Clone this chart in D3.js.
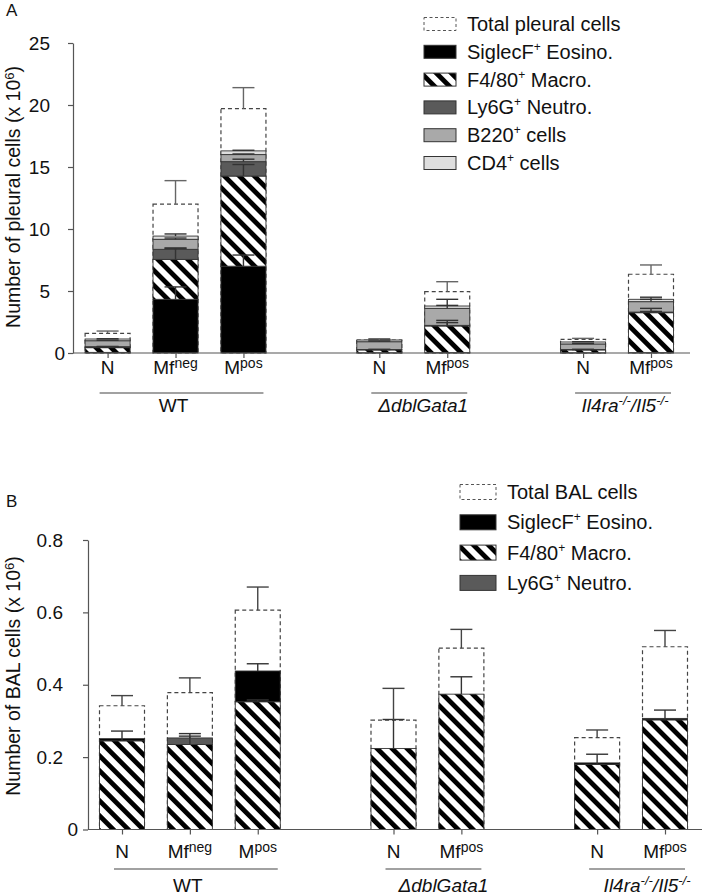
<!DOCTYPE html>
<html>
<head>
<meta charset="utf-8">
<script src="https://cdnjs.cloudflare.com/ajax/libs/d3/7.8.5/d3.min.js"></script>
<style>
  body { margin: 0; background: #fff; }
  text { font-family: "Liberation Sans", Arial, sans-serif; fill: #111; }
</style>
</head>
<body>
<div id="chart"></div>
<script>
// x slots (gaps between genotype groups)
const slots = ["wt_n", "wt_mfneg", "wt_mpos", "gap1", "dbl_n", "dbl_mfpos", "gap2", "il_n", "il_mfpos"];
const conds = ["wt_n", "wt_mfneg", "wt_mpos", "dbl_n", "dbl_mfpos", "il_n", "il_mfpos"];
const condMain = ["N", "Mf", "M", "N", "Mf", "N", "Mf"];
const condSup = ["", "neg", "pos", "", "pos", "", "pos"];

const groupNames = ["WT", "ΔdblGata1", "Il4ra-/-/Il5-/-"];
const groupMembers = [["wt_n", "wt_mpos"], ["dbl_n", "dbl_mfpos"], ["il_n", "il_mfpos"]];

// panel A: pleural cells (x 10^6)
const pleuralTotal    = [1.59, 12.0, 19.7, 1.05, 4.95, 1.10, 6.35];
const pleuralTotalErr = [0.18, 1.9, 1.7, 0.10, 0.80, 0.08, 0.75];
const pleuralEosino    = [0.05, 4.33, 7.0, 0.02, 0.03, 0.02, 0.03];
const pleuralEosinoErr = [0, 1.0, 0.9, 0, 0, 0, 0];
const pleuralMacro    = [0.38, 3.22, 7.27, 0.23, 2.15, 0.23, 3.22];
const pleuralMacroErr = [0.05, 0.9, 0.93, 0.03, 0.45, 0.03, 0.35];
const pleuralNeutro    = [0.08, 0.81, 1.16, 0.03, 0.05, 0.03, 0.05];
const pleuralNeutroErr = [0.02, 0.1, 0.2, 0.01, 0.22, 0.01, 0.05];
const pleuralB220    = [0.48, 0.81, 0.57, 0.63, 1.37, 0.45, 0.84];
const pleuralB220Err = [0.04, 0.1, 0.05, 0.05, 0.73, 0.04, 0.19];
const pleuralCD4    = [0.14, 0.26, 0.30, 0.14, 0.19, 0.16, 0.19];
const pleuralCD4Err = [0.02, 0.17, 0.05, 0.02, 0.05, 0.02, 0.17];
const pleuralTicks = [0, 5, 10, 15, 20, 25];

// panel B: BAL cells (x 10^6)
const balTotal    = [0.342, 0.378, 0.606, 0.302, 0.501, 0.254, 0.505];
const balTotalErr = [0.028, 0.041, 0.064, 0.088, 0.052, 0.021, 0.045];
const balMacro    = [0.245, 0.235, 0.353, 0.224, 0.374, 0.180, 0.303];
const balMacroErr = [0.027, 0.023, 0.005, 0.080, 0.048, 0.028, 0.027];
const balEosino    = [0.006, 0, 0.085, 0, 0, 0.004, 0.004];
const balEosinoErr = [0, 0, 0.020, 0, 0, 0, 0];
const balNeutro    = [0, 0.018, 0, 0, 0, 0, 0];
const balNeutroErr = [0, 0.012, 0, 0, 0, 0, 0];
const balTicks = [0, 0.2, 0.4, 0.6, 0.8];

const FILL = {
  eosino: "#000",
  macro: "url(#hatch)",
  neutro: "#5a5a5a",
  b220: "#a9a9a9",
  cd4: "#dedede"
};

const svg = d3.select("#chart").append("svg")
  .attr("width", 702)
  .attr("height", 895);

const defs = svg.append("defs");
const hatch = defs.append("pattern")
  .attr("id", "hatch")
  .attr("patternUnits", "userSpaceOnUse")
  .attr("width", 10.6)
  .attr("height", 10.6)
  .attr("patternTransform", "rotate(-45)");
hatch.append("rect").attr("width", 10.6).attr("height", 10.6).attr("fill", "#fff");
hatch.append("rect").attr("width", 4.8).attr("height", 10.6).attr("fill", "#000");

function addSup(sel, main, sup, supSize) {
  sel.append("tspan").text(main);
  if (sup) sel.append("tspan").attr("font-size", supSize).attr("dy", -6).text(sup);
}

function drawPanel(cfg) {
  const g = svg.append("g");

  const x = d3.scalePoint().domain(slots).range(cfg.xRange);
  const y = d3.scaleLinear().domain(cfg.yDomain).range(cfg.yRange);
  const bw = 45;

  // y axis
  const yAxis = g.append("g")
    .attr("transform", `translate(${cfg.axisX},0)`)
    .call(d3.axisLeft(y).tickValues(cfg.ticks).tickSize(5).tickSizeOuter(0)
      .tickPadding(cfg.tickPad).tickFormat(d => d === 0 ? "0" : String(d)));
  yAxis.select(".domain").attr("stroke", "#555").attr("stroke-width", 1.2);
  yAxis.selectAll(".tick line").attr("stroke", "#555").attr("stroke-width", 1.2);
  yAxis.selectAll(".tick text")
    .attr("font-size", 19)
    .attr("fill", "#111")
    .attr("font-family", '"Liberation Sans", Arial, sans-serif')
    .attr("dx", d => d === 0 ? 15 : 0);

  // y title
  const yt = g.append("text")
    .attr("transform", `translate(${cfg.titleX},${cfg.titleY}) rotate(-90)`)
    .attr("text-anchor", "middle")
    .attr("font-size", 19.5);
  yt.append("tspan").text(cfg.title + " (x 10");
  yt.append("tspan").attr("font-size", 13).attr("dy", -6).text("6");
  yt.append("tspan").attr("dy", 6).text(")");

  // total (dashed) boxes
  const cols = conds.map((c, i) => ({ id: c, i }));
  g.selectAll(".total").data(cols).join("rect")
    .attr("x", d => x(d.id) - bw / 2)
    .attr("width", bw)
    .attr("y", d => y(cfg.total[d.i]))
    .attr("height", d => y(0) - y(cfg.total[d.i]))
    .attr("fill", "#fff")
    .attr("stroke", "#444")
    .attr("stroke-width", 1.2)
    .attr("stroke-dasharray", "4,3");

  // stacked segments
  const errs = [];
  cols.forEach(d => {
    let base = 0;
    cfg.stack.forEach(s => {
      const v = s.values[d.i];
      if (v > 0) {
        g.append("rect")
          .attr("x", x(d.id) - bw / 2)
          .attr("width", bw)
          .attr("y", y(base + v))
          .attr("height", y(base) - y(base + v))
          .attr("fill", FILL[s.key])
          .attr("stroke", "#333")
          .attr("stroke-width", 0.9);
      }
      base += v;
      if (s.err[d.i] > 0) errs.push({ id: d.id, top: base, e: s.err[d.i], color: "#333" });
    });
    errs.push({ id: d.id, top: cfg.total[d.i], e: cfg.totalErr[d.i], color: cfg.totalErrColor });
  });

  // error bars
  errs.forEach(e => {
    const cx = x(e.id);
    g.append("line")
      .attr("x1", cx).attr("x2", cx)
      .attr("y1", y(e.top)).attr("y2", y(e.top + e.e))
      .attr("stroke", e.color).attr("stroke-width", 1.4);
    g.append("line")
      .attr("x1", cx - 11).attr("x2", cx + 11)
      .attr("y1", y(e.top + e.e)).attr("y2", y(e.top + e.e))
      .attr("stroke", e.color).attr("stroke-width", 1.4);
  });

  // x axis
  g.append("line")
    .attr("x1", cfg.axisX).attr("x2", cfg.xEnd)
    .attr("y1", y(0)).attr("y2", y(0))
    .attr("stroke", "#555").attr("stroke-width", 1.2);
  const xAxis = g.append("g")
    .attr("transform", `translate(0,${y(0)})`)
    .call(d3.axisBottom(x).tickValues(conds).tickSize(5).tickFormat(""));
  xAxis.select(".domain").remove();
  xAxis.selectAll(".tick line").attr("stroke", "#555").attr("stroke-width", 1.2);

  cols.forEach(d => {
    const t = g.append("text")
      .attr("x", x(d.id))
      .attr("y", cfg.labelY)
      .attr("text-anchor", "middle")
      .attr("font-size", 19);
    addSup(t, condMain[d.i], condSup[d.i], 14);
  });

  // group lines and labels
  groupMembers.forEach((m, gi) => {
    const x1 = x(m[0]) - 8, x2 = x(m[1]) + 20;
    g.append("line")
      .attr("x1", x1).attr("x2", x2)
      .attr("y1", cfg.groupLineY).attr("y2", cfg.groupLineY)
      .attr("stroke", "#444").attr("stroke-width", 1.2);
    const t = g.append("text")
      .attr("x", (x1 + x2) / 2 + cfg.groupShift[gi])
      .attr("y", cfg.groupLabelY)
      .attr("text-anchor", "middle")
      .attr("font-size", 19)
      .attr("font-style", gi === 0 ? "normal" : "italic");
    if (gi === 2) {
      t.append("tspan").text("Il4ra");
      t.append("tspan").attr("font-size", 13).attr("dy", -7).text("-/-");
      t.append("tspan").attr("dy", 7).text("/Il5");
      t.append("tspan").attr("font-size", 13).attr("dy", -7).text("-/-");
    } else {
      t.text(groupNames[gi]);
    }
  });

  // panel letter
  g.append("text")
    .attr("x", 6).attr("y", cfg.letterY)
    .attr("font-size", 17)
    .text(cfg.letter);

  // legend
  const lg = g.append("g");
  cfg.legend.forEach((item, li) => {
    const cy = cfg.legendY + li * cfg.legendStep;
    const r = lg.append("rect")
      .attr("x", cfg.legendX)
      .attr("y", cy - cfg.swH / 2)
      .attr("width", cfg.swW)
      .attr("height", cfg.swH)
      .attr("stroke", "#333")
      .attr("stroke-width", 1);
    if (item.key === "total") {
      r.attr("fill", "#fff").attr("stroke", "#555").attr("stroke-dasharray", "3,2.5");
    } else {
      r.attr("fill", FILL[item.key]);
    }
    const t = lg.append("text")
      .attr("x", cfg.legendX + cfg.swW + 11)
      .attr("y", cy + 7)
      .attr("font-size", 20);
    if (item.sup) {
      t.append("tspan").text(item.label);
      t.append("tspan").attr("font-size", 12).attr("dy", -8).text("+");
      t.append("tspan").attr("dy", 8).text(" " + item.rest);
    } else {
      t.text(item.label);
    }
  });
}

drawPanel({
  letter: "A", letterY: 16,
  xRange: [107.6, 651],
  yDomain: [0, 25], yRange: [353, 43], ticks: pleuralTicks,
  axisX: 73, xEnd: 690, tickPad: 18,
  title: "Number of pleural cells", titleX: 20, titleY: 197,
  total: pleuralTotal, totalErr: pleuralTotalErr, totalErrColor: "#666",
  stack: [
    { key: "eosino", values: pleuralEosino, err: pleuralEosinoErr },
    { key: "macro", values: pleuralMacro, err: pleuralMacroErr },
    { key: "neutro", values: pleuralNeutro, err: pleuralNeutroErr },
    { key: "b220", values: pleuralB220, err: pleuralB220Err },
    { key: "cd4", values: pleuralCD4, err: pleuralCD4Err }
  ],
  labelY: 374, groupLineY: 393, groupLabelY: 412, groupShift: [-8, 4, 2],
  legendX: 424, legendY: 24, legendStep: 27.8, swW: 32, swH: 13,
  legend: [
    { key: "total", label: "Total pleural cells" },
    { key: "eosino", label: "SiglecF", sup: true, rest: "Eosino." },
    { key: "macro", label: "F4/80", sup: true, rest: "Macro." },
    { key: "neutro", label: "Ly6G", sup: true, rest: "Neutro." },
    { key: "b220", label: "B220", sup: true, rest: "cells" },
    { key: "cd4", label: "CD4", sup: true, rest: "cells" }
  ]
});

drawPanel({
  letter: "B", letterY: 507,
  xRange: [122, 665],
  yDomain: [0, 0.8], yRange: [829.5, 540], ticks: balTicks,
  axisX: 88, xEnd: 702, tickPad: 20,
  title: "Number of BAL cells", titleX: 20, titleY: 676,
  total: balTotal, totalErr: balTotalErr, totalErrColor: "#444",
  stack: [
    { key: "macro", values: balMacro, err: balMacroErr },
    { key: "eosino", values: balEosino, err: balEosinoErr },
    { key: "neutro", values: balNeutro, err: balNeutroErr }
  ],
  labelY: 858, groupLineY: 869, groupLabelY: 892, groupShift: [-8, 10, 10],
  legendX: 460, legendY: 492, legendStep: 30.3, swW: 36, swH: 15,
  legend: [
    { key: "total", label: "Total BAL cells" },
    { key: "eosino", label: "SiglecF", sup: true, rest: "Eosino." },
    { key: "macro", label: "F4/80", sup: true, rest: "Macro." },
    { key: "neutro", label: "Ly6G", sup: true, rest: "Neutro." }
  ]
});
</script>
</body>
</html>
